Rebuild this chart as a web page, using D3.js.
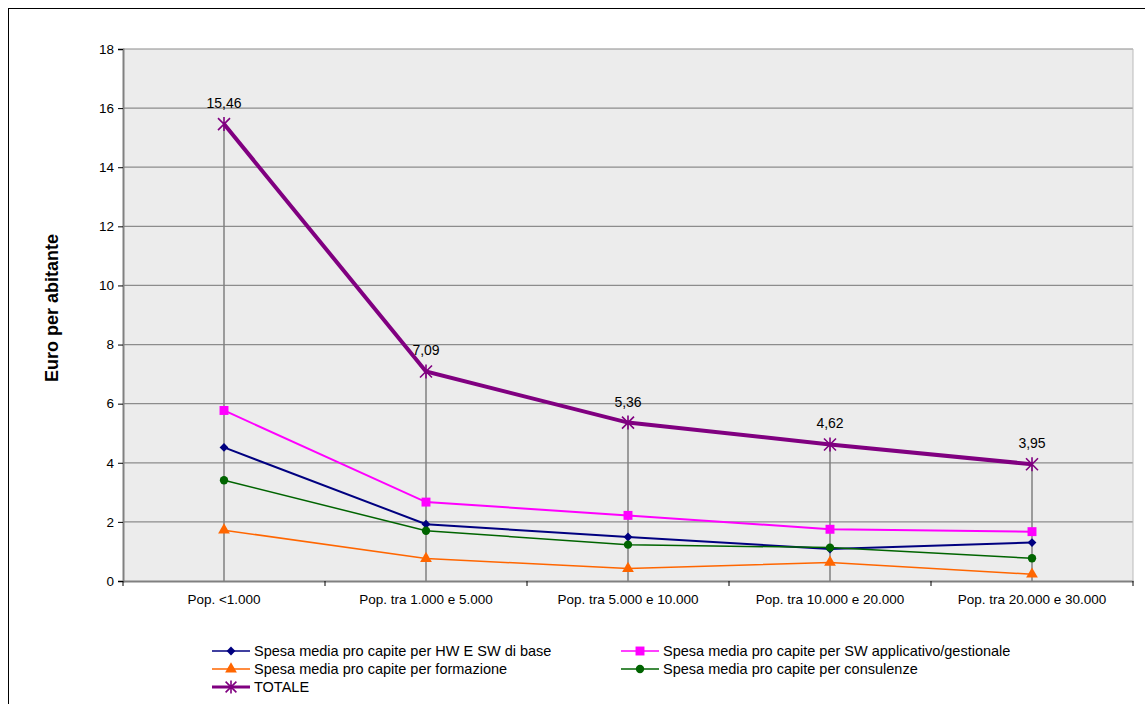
<!DOCTYPE html>
<html>
<head>
<meta charset="utf-8">
<script src="https://cdn.jsdelivr.net/npm/d3@7"></script>
<style>
  body { margin: 0; background: #fff; }
  svg { display: block; font-family: Arial, "Liberation Sans", sans-serif; }
</style>
</head>
<body>
<svg width="1145" height="704"></svg>
<script>
var categories = ["Pop. <1.000", "Pop. tra 1.000 e 5.000", "Pop. tra 5.000 e 10.000", "Pop. tra 10.000 e 20.000", "Pop. tra 20.000 e 30.000"];
var hwsw = [4.52, 1.92, 1.49, 1.08, 1.30];
var swApp = [5.77, 2.67, 2.22, 1.75, 1.67];
var formazione = [1.72, 0.76, 0.42, 0.63, 0.23];
var consulenze = [3.41, 1.70, 1.23, 1.13, 0.77];
var totale = [15.46, 7.09, 5.36, 4.62, 3.95];
var yTicks = [0, 2, 4, 6, 8, 10, 12, 14, 16, 18];

var diamond = {draw: function(ctx, size) {
  var r = Math.sqrt(size) / 1.6;
  ctx.moveTo(0, -r); ctx.lineTo(r, 0); ctx.lineTo(0, r); ctx.lineTo(-r, 0); ctx.closePath();
}};

var series = [
  {name: "Spesa media pro capite per HW E SW di base", values: hwsw, color: "#000080", symbol: diamond, size: 50, width: 2},
  {name: "Spesa media pro capite per SW applicativo/gestionale", values: swApp, color: "#ff00ff", symbol: d3.symbolSquare, size: 80, width: 2},
  {name: "Spesa media pro capite per formazione", values: formazione, color: "#ff6600", symbol: d3.symbolTriangle, size: 60, width: 1.5},
  {name: "Spesa media pro capite per consulenze", values: consulenze, color: "#006400", symbol: d3.symbolCircle, size: 55, width: 1.5},
  {name: "TOTALE", values: totale, color: "#800080", symbol: "star", size: 0, width: 4}
];

var svg = d3.select("svg");
var mLeft = 123, mRight = 1133, mTop = 49, mBottom = 581;

// outer frame
svg.append("rect").attr("x", 8.5).attr("y", 8.5).attr("width", 1160).attr("height", 720)
  .attr("fill", "#fff").attr("stroke", "#000").attr("stroke-width", 1);

var x = d3.scaleBand().domain(categories).range([mLeft, mRight]);
var y = d3.scaleLinear().domain([0, 18]).range([mBottom, mTop]);
var cx = function(i) { return x(categories[i]) + x.bandwidth() / 2; };

svg.append("rect").attr("x", mLeft).attr("y", mTop).attr("width", mRight - mLeft).attr("height", mBottom - mTop)
  .attr("fill", "#ececec");

// gridlines
svg.append("g").selectAll("line").data(yTicks.slice(1)).enter().append("line")
  .attr("x1", mLeft).attr("x2", mRight)
  .attr("y1", function(d) { return y(d); }).attr("y2", function(d) { return y(d); })
  .attr("stroke", "#8c8c8c").attr("stroke-width", 1.2);

// drop lines
svg.append("g").selectAll("line").data(totale).enter().append("line")
  .attr("x1", function(d, i) { return cx(i); }).attr("x2", function(d, i) { return cx(i); })
  .attr("y1", function(d) { return y(d); }).attr("y2", y(0))
  .attr("stroke", "#808080").attr("stroke-width", 1.5);

// axes
var yAxis = svg.append("g").attr("transform", "translate(" + mLeft + ",0)")
  .call(d3.axisLeft(y).tickValues(yTicks).tickSize(5).tickPadding(4));
var xAxis = svg.append("g").attr("transform", "translate(0," + mBottom + ")")
  .call(d3.axisBottom(x).tickSize(0).tickPadding(13));
svg.append("g").attr("transform", "translate(0," + mBottom + ")")
  .selectAll("line").data(d3.range(categories.length + 1)).enter().append("line")
  .attr("x1", function(i) { return mLeft + i * x.bandwidth(); })
  .attr("x2", function(i) { return mLeft + i * x.bandwidth(); })
  .attr("y1", 0).attr("y2", 5).attr("stroke", "#000");
[yAxis, xAxis].forEach(function(a) {
  a.select(".domain").attr("stroke", "#808080").attr("stroke-width", 2);
  a.selectAll("text").attr("font-size", 13.5).attr("fill", "#000")
    .attr("font-family", "Arial, 'Liberation Sans', sans-serif");
});
yAxis.selectAll(".tick line").attr("stroke", "#000");
svg.append("line").attr("x1", mRight).attr("x2", mRight).attr("y1", mTop).attr("y2", mBottom).attr("stroke", "#bbb");

svg.append("text").attr("transform", "translate(58,308) rotate(-90)")
  .attr("text-anchor", "middle").attr("font-size", 18).attr("font-weight", "bold")
  .text("Euro per abitante");

function drawMarker(g, s, px, py, scale) {
  if (s.symbol === "star") {
    var r = 6 * (scale || 1);
    g.append("path").attr("d", "M" + (px - r) + "," + (py - r) + "L" + (px + r) + "," + (py + r) +
        "M" + (px - r) + "," + (py + r) + "L" + (px + r) + "," + (py - r) +
        "M" + px + "," + (py - r - 1) + "L" + px + "," + (py + r + 1))
      .attr("stroke", s.color).attr("stroke-width", 1.6).attr("fill", "none");
  } else {
    g.append("path").attr("d", d3.symbol().type(s.symbol).size(s.size)())
      .attr("transform", "translate(" + px + "," + py + ")").attr("fill", s.color);
  }
}

var line = d3.line().x(function(d, i) { return cx(i); }).y(function(d) { return y(d); });

series.forEach(function(s) {
  var g = svg.append("g");
  g.append("path").attr("d", line(s.values)).attr("fill", "none")
    .attr("stroke", s.color).attr("stroke-width", s.width);
  s.values.forEach(function(v, i) { drawMarker(g, s, cx(i), y(v)); });
});

// data labels for totale
svg.append("g").selectAll("text").data(totale).enter().append("text")
  .attr("x", function(d, i) { return cx(i); }).attr("y", function(d) { return y(d) - 16; })
  .attr("text-anchor", "middle").attr("font-size", 14)
  .text(function(d) { return d.toFixed(2).replace(".", ","); });

// legend
var legendPos = [[212, 651], [621, 651], [212, 669], [621, 669], [212, 687]];
series.forEach(function(s, i) {
  var g = svg.append("g");
  var lx = legendPos[i][0], ly = legendPos[i][1];
  g.append("line").attr("x1", lx).attr("x2", lx + 38).attr("y1", ly).attr("y2", ly)
    .attr("stroke", s.color).attr("stroke-width", s.width === 4 ? 3 : 1.5);
  drawMarker(g, s, lx + 19, ly, 0.9);
  g.append("text").attr("x", lx + 42).attr("y", ly + 5).attr("font-size", 14.5).text(s.name);
});
</script>
</body>
</html>
